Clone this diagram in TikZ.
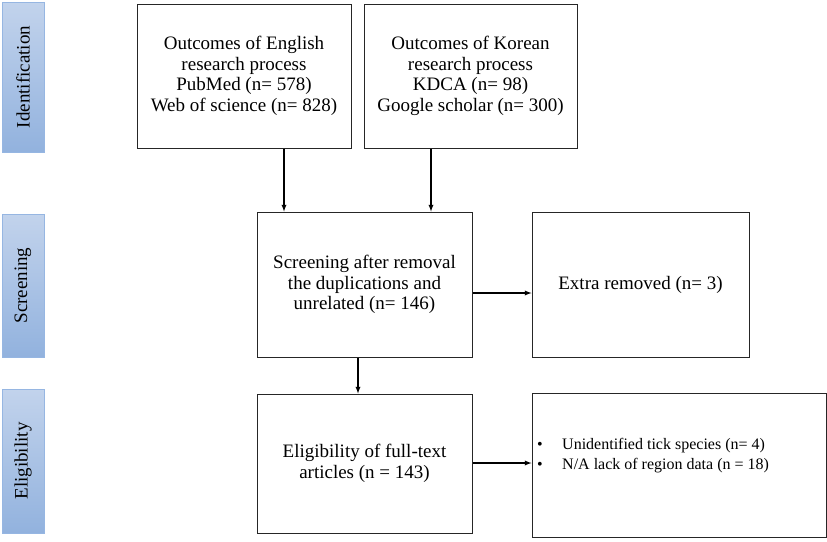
\documentclass[tikz,border=0pt]{standalone}
\usepackage{fontspec}
\setmainfont{Liberation Serif}
\usetikzlibrary{positioning, arrows}
\definecolor{barlight}{RGB}{194,211,236}
\definecolor{bardark}{RGB}{146,178,222}
\definecolor{barline}{RGB}{150,182,226}
\tikzset{
    box/.style={draw=black!85, line width=1pt, align=center, inner sep=2pt},
    phase/.style={rotate=90, draw=barline, line width=0.8pt,
        top color=barlight, bottom color=bardark, inner sep=0pt},
    arr/.style={-latex, line width=1.3pt},
}
\begin{document}
\begin{tikzpicture}[x=1pt, y=-1pt, font=\fontsize{19}{20.5}\selectfont]
    \useasboundingbox (0,0) rectangle (827,541);

    % stage bars
    \node[phase, minimum width=150, minimum height=42] (idn) at (23,77) {Identification};
    \node[phase, minimum width=143, minimum height=42] (scrbar) at (23,285.5) {Screening};
    \node[phase, minimum width=144, minimum height=42] (elgbar) at (23,461) {Eligibility};

    % boxes
    \node[box, minimum width=214, minimum height=144, text depth=4pt] (eng) at (244,76)
        {Outcomes of English\\research process\\PubMed (n= 578)\\Web of science (n= 828)};
    \node[box, minimum width=213, minimum height=144, text depth=4pt] (kor) at (470.5,76)
        {Outcomes of Korean\\research process\\KDCA (n= 98)\\Google scholar (n= 300)};
    \node[box, minimum width=215, minimum height=145] (scr) at (364.5,284.5)
        {Screening after removal\\the duplications and\\unrelated (n= 146)};
    \node[box, minimum width=217, minimum height=145] (ext) at (640.5,284.5)
        {Extra removed (n= 3)};
    \node[box, minimum width=215, minimum height=139] (elg) at (364.5,463.5)
        {Eligibility of full-text\\articles (n = 143)};
    \node[box, minimum width=294, minimum height=144] (exc) at (679,465) {};
    \node[anchor=west, align=left, inner sep=0pt, font=\fontsize{16}{20}\selectfont]
        (excl) at (537,456)
        {\makebox[25pt][l]{\textbullet}Unidentified tick species (n= 4)\\
         \makebox[25pt][l]{\textbullet}N/A lack of region data (n = 18)};

    % arrows
    \coordinate (ax1) at (284,0);
    \coordinate (ax2) at (431,0);
    \coordinate (ax3) at (358,0);
    \coordinate (ay1) at (0,293);
    \coordinate (ay2) at (0,463);
    \draw[arr] (eng.south -| ax1) -- (scr.north -| ax1);
    \draw[arr] (kor.south -| ax2) -- (scr.north -| ax2);
    \draw[arr] (scr.east |- ay1) -- (ext.west |- ay1);
    \draw[arr] (scr.south -| ax3) -- (elg.north -| ax3);
    \draw[arr] (elg.east |- ay2) -- (exc.west |- ay2);
\end{tikzpicture}
\end{document}
